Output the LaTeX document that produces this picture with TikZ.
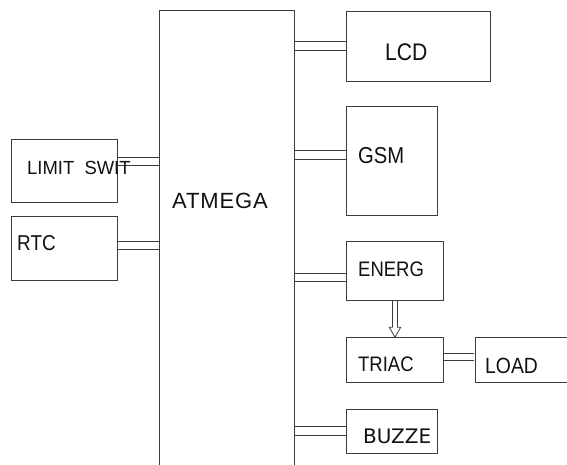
\documentclass[tikz,border=0pt]{standalone}
\usepackage{fontspec}
\setmainfont{Liberation Sans}
\newfontfamily\narrowsf[FakeStretch=0.88]{Liberation Sans}
\newfontfamily\spacedsf[LetterSpace=4]{Liberation Sans}
\newfontfamily\limitsf[FakeStretch=0.97]{Liberation Sans}
\newfontfamily\buzzsf{DejaVu Sans}
\usetikzlibrary{calc}
\definecolor{ctlLine}{HTML}{3C3C3C}
\definecolor{ctlText}{HTML}{111111}
\tikzset{
  ctl box/.style={draw=ctlLine, fill=white, line width=0.9pt, rectangle, inner sep=0pt},
  ctl link/.style={draw=ctlLine, line width=0.9pt, double=white, double distance=7.4pt, shorten <=0.45pt, shorten >=0.45pt},
  ctl label/.style={inner sep=0pt, anchor=base west, text=ctlText},
}

\begin{document}
\begin{tikzpicture}[x=1pt, y=-1pt]
  \useasboundingbox (0,0) rectangle (567,465);

  % Controller, open at the bottom
  \node[inner sep=0pt, minimum width=134pt, minimum height=454.3pt] (atm) at (227,237.85) {};
  \draw[ctlLine, line width=0.9pt] (atm.south west) -- (atm.north west) -- (atm.north east) -- (atm.south east);
  \node[ctl label, font=\spacedsf\fontsize{22}{26}\selectfont] (atmtxt) at (172,208) {ATMEGA};

  % Inputs on the left
  \node[ctl box, minimum width=105.6pt, minimum height=63.7pt] (lim) at (64.5,170.85) {};
  \node[ctl box, minimum width=105.6pt, minimum height=63.3pt] (rtc) at (64.5,248.35) {};
  \draw[ctl link] (lim.east |- 0,161.7) -- (atm.west |- 0,161.7);
  \draw[ctl link] (rtc.east |- 0,245.3) -- (atm.west |- 0,245.3);
  \node[ctl label, font=\limitsf\fontsize{19}{22}\selectfont] (limtxt) at (27,175) {LIMIT\ \ SWIT};
  \node[ctl label, font=\narrowsf\fontsize{21.5}{25}\selectfont] (rtctxt) at (17,250.7) {RTC};

  % Outputs on the right
  \node[ctl box, minimum width=144pt, minimum height=70pt] (lcd) at (418.7,46) {};
  \node[ctl box, minimum width=91pt, minimum height=109pt] (gsm) at (392.2,161.2) {};
  \node[ctl box, minimum width=96.6pt, minimum height=58.3pt] (energ) at (395,270.85) {};
  \node[ctl box, minimum width=96.6pt, minimum height=45pt] (triac) at (395,360.2) {};
  \node[ctl box, minimum width=93pt, minimum height=45pt] (load) at (521.5,360.2) {};
  \node[ctl box, minimum width=91pt, minimum height=44pt] (buzz) at (392.2,431.3) {};

  \draw[ctl link] (atm.east |- 0,46) -- (lcd.west |- 0,46);
  \draw[ctl link] (atm.east |- 0,155) -- (gsm.west |- 0,155);
  \draw[ctl link] (atm.east |- 0,277.5) -- (energ.west |- 0,277.5);
  \draw[ctl link] (atm.east |- 0,431) -- (buzz.west |- 0,431);
  \draw[ctl link, double distance=5.6pt] (triac.east |- 0,357) -- (load.west |- 0,357);

  % hollow arrow energ -> triac
  \draw[ctlLine, line width=0.8pt]
    ($(energ.south)+(-2.5,0)$) -- ($(triac.north)+(-2.5,-10)$) -- ++(-3.2,0) -- (triac.north)
    -- ($(triac.north)+(5.7,-10)$) -- ++(-3.2,0) -- ($(energ.south)+(2.5,0)$);

  \node[ctl label, font=\narrowsf\fontsize{24}{28}\selectfont] (lcdtxt) at (385,61) {LCD};
  \node[ctl label, font=\narrowsf\fontsize{23}{27}\selectfont] (gsmtxt) at (358,163.3) {GSM};
  \node[ctl label, font=\narrowsf\fontsize{21}{25}\selectfont] (energtxt) at (358,276.7) {ENERG};
  \node[ctl label, font=\narrowsf\fontsize{21}{25}\selectfont] (triactxt) at (358,371.7) {TRIAC};
  \node[ctl label, font=\narrowsf\fontsize{22}{26}\selectfont] (loadtxt) at (485,373.3) {LOAD};
  \node[ctl label, font=\buzzsf\fontsize{20}{24}\selectfont] (buzztxt) at (363,443) {BUZZE};
\end{tikzpicture}
\end{document}
